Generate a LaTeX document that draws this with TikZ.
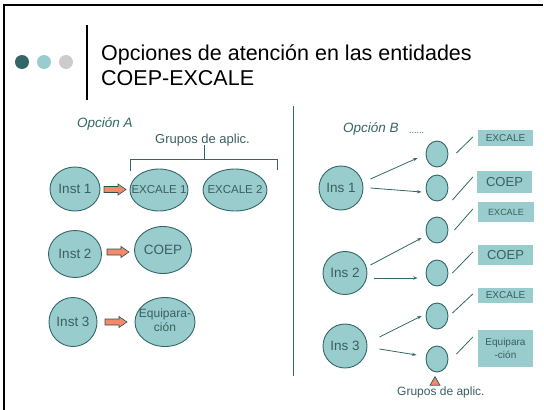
\documentclass[tikz,border=0pt]{standalone}
\usepackage{fontspec}
\setmainfont{Liberation Sans}
\usetikzlibrary{calc,shapes.geometric,arrows.meta}
\definecolor{tealfill}{HTML}{99CCCC}
\definecolor{tealdark}{HTML}{336666}
\definecolor{dotgrey}{HTML}{CCCCCC}
\definecolor{salmon}{HTML}{F4896B}
\definecolor{txtcol}{HTML}{3A5F5F}
\newcommand\fsz[2]{\fontsize{#1}{#2}\selectfont}
\newcommand\zw[1]{\makebox[0pt]{#1}}
\newcommand\blkarr[3]{%
  \path (#1.east) -- (#2.west) coordinate[midway] (#3);
  \draw[blk] ($(#3)+(-11,-3)$) -- ++(14,0) -- ++(0,-2.5) -- ++(8,5.5) -- ++(-8,5.5) -- ++(0,-2.5) -- ++(-14,0) -- cycle;}
\begin{document}
\begin{tikzpicture}[x=1pt,y=-1pt,
  ell/.style={ellipse, draw=tealdark, fill=tealfill, line width=0.9pt, inner sep=0pt, text=txtcol},
  sell/.style={ell, minimum width=22pt, minimum height=26pt},
  tbox/.style={rectangle, fill=tealfill, inner sep=0pt, text=txtcol, align=center},
  arr/.style={draw=tealdark, line width=0.8pt, -{Stealth[length=4.5pt,width=3.2pt]}},
  slash/.style={draw=tealdark, line width=0.8pt},
  blk/.style={draw=tealdark!80!black, fill=salmon, line width=0.6pt},
  dot/.style={circle, minimum size=14pt, inner sep=0pt},
  opt/.style={anchor=base west, text=tealdark, font=\fsz{13.5}{16}\itshape},
  glabel/.style={anchor=base west, text=txtcol}
]
\useasboundingbox (0,0) rectangle (544,410);
% frame
\draw[black, line width=2pt] (3.5,410) -- (3.5,5) -- (543,5);
% title decoration
\node[dot, fill=tealdark] (d1) at (22,62) {};
\node[dot, fill=tealfill] (d2) at (44,62) {};
\node[dot, fill=dotgrey] (d3) at (66,62) {};
\draw[black, line width=2pt] (87,25) -- (87,100);
\node[anchor=base west, font=\fsz{21.5}{25}, inner sep=0pt] (t1) at (101,60) {Opciones de atención en las entidades};
\node[anchor=base west, font=\fsz{21.5}{25}, inner sep=0pt] (t2) at (101,85) {COEP-EXCALE};
% divider
\draw[tealdark, line width=1pt] (293,106) -- (293,376);

% ---------- Option A
\node[opt, inner sep=0pt] (oa) at (77,127) {Opción A};
\node[glabel, font=\fsz{13}{15}, inner sep=0pt] (ga) at (155,143) {Grupos de aplic.};
\draw[tealdark, line width=0.9pt] (130,171) -- (130,159) -- (277,159) -- (277,170);
\draw[tealdark, line width=0.9pt] (204,159) -- (204,145);

\node[ell, minimum width=50pt, minimum height=44pt, font=\fsz{13.5}{15}] (i1) at (75,189) {\zw{Inst 1}};
\node[ell, minimum width=58pt, minimum height=42pt, font=\fsz{11.5}{13}] (x1) at (159,190) {\zw{EXCALE 1}};
\node[ell, minimum width=64pt, minimum height=42pt, font=\fsz{11.5}{13}] (x2) at (235,190) {\zw{EXCALE 2}};
\node[ell, minimum width=53pt, minimum height=47pt, font=\fsz{13.5}{15}] (i2) at (75,254) {\zw{Inst 2}};
\node[ell, minimum width=57pt, minimum height=47pt, font=\fsz{13.5}{15}] (c2) at (163,250) {\zw{COEP}};
\node[ell, minimum width=48pt, minimum height=49pt, font=\fsz{13.5}{15}] (i3) at (73,322) {\zw{Inst 3}};
\node[ell, minimum width=60pt, minimum height=49pt, font=\fsz{12}{14}] (q3) at (165,322) {\zw{\begin{tabular}{@{}c@{}}Equipara-\\ción\end{tabular}}};

\blkarr{i1}{x1}{m1}
\blkarr{i2}{c2}{m2}
\blkarr{i3}{q3}{m3}

% ---------- Option B
\node[opt, inner sep=0pt] (ob) at (343,132) {Opción B};
\node[anchor=base west, text=tealdark, font=\fsz{9}{10}, inner sep=0pt] (obd) at (409,133) {......};

\node[ell, minimum width=44pt, minimum height=44pt, font=\fsz{13.5}{15}] (n1) at (341,188) {\zw{Ins 1}};
\node[ell, minimum width=44pt, minimum height=43pt, font=\fsz{13.5}{15}] (n2) at (345,273) {\zw{Ins 2}};
\node[ell, minimum width=44pt, minimum height=44pt, font=\fsz{13.5}{15}] (n3) at (345,346) {\zw{Ins 3}};

\node[sell] (e1) at (437,154) {};
\node[sell] (e2) at (437,188) {};
\node[sell] (e3) at (437,230) {};
\node[sell] (e4) at (437,273) {};
\node[sell] (e5) at (437,316) {};
\node[sell] (e6) at (437,359) {};

\node[tbox, minimum width=55pt, minimum height=16pt, font=\fsz{10}{12}] (b1) at (505.5,138) {EXCALE};
\node[tbox, minimum width=55pt, minimum height=22pt, font=\fsz{13}{15}] (b2) at (504.5,182) {COEP};
\node[tbox, minimum width=56pt, minimum height=20pt, font=\fsz{9}{11}] (b3) at (506,212) {EXCALE};
\node[tbox, minimum width=55pt, minimum height=20pt, font=\fsz{13}{15}] (b4) at (505.5,255) {COEP};
\node[tbox, minimum width=55pt, minimum height=15pt, font=\fsz{10}{12}] (b5) at (505.5,295.5) {EXCALE};
\node[tbox, minimum width=55pt, minimum height=37pt, font=\fsz{10}{13}] (b6) at (505.5,348.5) {Equipara\\-ción};

% arrows from institutions
\draw[arr] ($(n1.east)+(7,-9)$) -- ($(e1.west)+(-8,4)$);
\draw[arr] ($(n1.east)+(7,0)$) -- ($(e2.west)+(-4,4)$);
\draw[arr] ($(n2.east)+(3,-8)$) -- ($(e3.west)+(-4,8)$);
\draw[arr] ($(n2.east)+(7,5)$) -- ($(e4.west)+(-8,5)$);
\draw[arr] ($(n3.east)+(12,-9)$) -- ($(e5.west)+(-4,0)$);
\draw[arr] ($(n3.east)+(12,3)$) -- ($(e6.west)+(-9,-4)$);

% slashes to boxes
\draw[slash] ($(e1.east)+(8,-1)$) -- ($(b1.west)+(-5,-1)$);
\draw[slash] ($(e2.east)+(4,12)$) -- ($(b2.west)+(-4,-5)$);
\draw[slash] ($(e3.east)+(6,0)$) -- ($(b3.west)+(-5,-3)$);
\draw[slash] ($(e4.east)+(4,0)$) -- ($(b4.west)+(-5,-3)$);
\draw[slash] ($(e5.east)+(4,-3)$) -- ($(b5.west)+(-5,-1.5)$);
\draw[slash] ($(e6.east)+(8,-5)$) -- ($(b6.west)+(-5,-11.5)$);

% triangle and label
\node[regular polygon, regular polygon sides=3, draw=tealdark, fill=salmon, minimum size=11.5pt, inner sep=0pt, line width=0.8pt] (tri) at ($(e6.south)+(-2,10)$) {};
\node[glabel, font=\fsz{12}{14}, inner sep=0pt] (gb) at (397,395) {Grupos de aplic.};
\end{tikzpicture}
\end{document}
